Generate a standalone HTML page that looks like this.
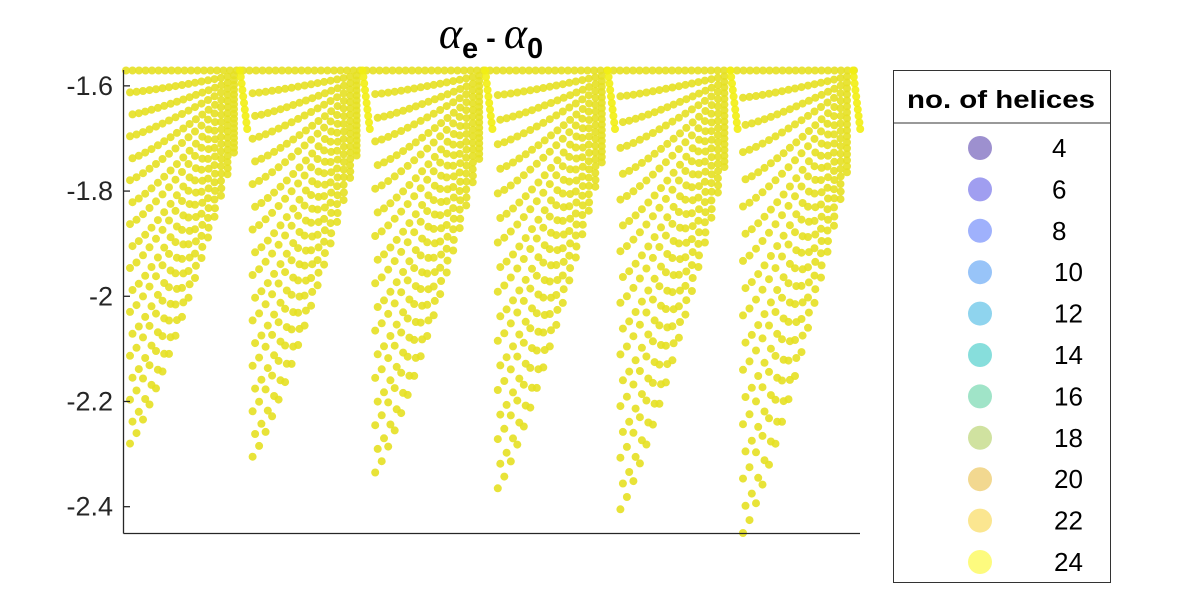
<!DOCTYPE html>
<html><head><meta charset="utf-8"><style>
body{margin:0;background:#fff;}
svg text{font-family:"Liberation Sans",sans-serif;}
</style></head><body>
<svg id="chart" width="1200" height="600" viewBox="0 0 1200 600" xmlns="http://www.w3.org/2000/svg">
<rect width="1200" height="600" fill="#fff"/>
<g id="dots"></g>
<g id="axes"></g>
<text x="491" y="48" text-anchor="middle" font-size="29" font-weight="bold"><tspan font-family="Liberation Serif" font-style="italic" font-weight="normal" font-size="44">α</tspan><tspan dy="10">e</tspan><tspan dy="-10"> - </tspan><tspan font-family="Liberation Serif" font-style="italic" font-weight="normal" font-size="44">α</tspan><tspan dy="10">0</tspan></text>
<g>
<rect x="893.5" y="70.5" width="217" height="512" fill="#fff" stroke="#333" stroke-width="1"/>
<line x1="893.5" y1="123" x2="1110.5" y2="123" stroke="#333"/>
<text x="1001" y="108" text-anchor="middle" font-size="25" font-weight="bold" textLength="188" lengthAdjust="spacingAndGlyphs">no. of helices</text>
<g id="legendItems"></g>
</g>
</svg>
<script>
// data
const yTicks = [-1.6, -1.8, -2, -2.2, -2.4];
const yTickLabels = ['-1.6', '-1.8', '-2', '-2.2', '-2.4'];
const panelIndex = [0, 1, 2, 3, 4, 5];
const panelMin = [-2.28, -2.305, -2.335, -2.365, -2.405, -2.45];
const topValue = -1.5708;
const legendLabels = ['4','6','8','10','12','14','16','18','20','22','24'];
const legendColors = ['#9d90cf','#a09ef0','#9fb1fc','#98c4f8','#8fd4ee','#87dedc','#a0e4c8','#d0e2a0','#f2d890','#fbe690','#fdfb7e'];

const NS='http://www.w3.org/2000/svg';
const yMin=-2.45, yMax=-1.5708;
const Y0=533, Y1=70.5;
function yScale(v){return Y0+(v-yMin)/(yMax-yMin)*(Y1-Y0);}
const X0=130, PW=122.6;
function xScale(p,u){return X0+p*PW+u*104;}
const dots=document.getElementById('dots');
function dot(x,y,c,name){
  const e=document.createElementNS(NS,'circle');
  e.setAttribute('cx',x.toFixed(1));e.setAttribute('cy',y.toFixed(1));
  e.setAttribute('r',4);e.setAttribute('fill',c);e.setAttribute('fill-opacity','0.9');
  
  
  dots.appendChild(e);
}
const C='#e6e022';
// top row across whole width
for(let x=126;x<=856;x+=6.5){dot(x,yScale(topValue),C,'point-top-row');}
panelIndex.forEach(p=>{
  const D=topValue-panelMin[p];
  const K=17, J=16;
  for(let j=0;j<=J;j++){
    const u=j/J;
    for(let k=1;k<=K;k++){
      const s=k/K;
      const depth=D*s*(1-0.78*Math.pow(u,1.2));
      const xs=xScale(p,u)+((k%2)?0:2.5)*(1-u);
      dot(xs,yScale(topValue-depth),C,'point');
    }
  }
  // dense right strip
  for(let k=0;k<10;k++){
    dot(xScale(p,1)+6+k*0.8,yScale(topValue)+k*6.5,'#f2ee12','point-strip');
  }
});
// axes
const ax=document.getElementById('axes');
function line(x1,y1,x2,y2,name){const l=document.createElementNS(NS,'line');
 l.setAttribute('x1',x1);l.setAttribute('y1',y1);l.setAttribute('x2',x2);l.setAttribute('y2',y2);
 l.setAttribute('stroke','#262626');l.setAttribute('stroke-width','1.3');
 
 
 ax.appendChild(l);}
line(123.5,70,123.5,533.5,'y-axis');
line(123.5,533.5,860,533.5,'x-axis');
yTicks.forEach((v,i)=>{
  const y=yScale(v);
  line(123.5,y,130,y,'y-tick');
  const t=document.createElementNS(NS,'text');
  t.setAttribute('x',113);t.setAttribute('y',y+9);t.setAttribute('text-anchor','end');
  t.setAttribute('font-size','27');t.setAttribute('fill','#262626');
  
  
  t.textContent=yTickLabels[i];ax.appendChild(t);
});
// legend
const lg=document.getElementById('legendItems');
legendLabels.forEach((lab,i)=>{
  const y=148+i*41.4;
  const c=document.createElementNS(NS,'circle');
  c.setAttribute('cx',980);c.setAttribute('cy',y);c.setAttribute('r',12);c.setAttribute('fill',legendColors[i]);
  
  
  lg.appendChild(c);
  const t=document.createElementNS(NS,'text');
  t.setAttribute('x',lab.length>1?1054:1052);t.setAttribute('y',y+9);t.setAttribute('font-size','26');
  
  
  t.textContent=lab;lg.appendChild(t);
});
</script>
</body></html>
